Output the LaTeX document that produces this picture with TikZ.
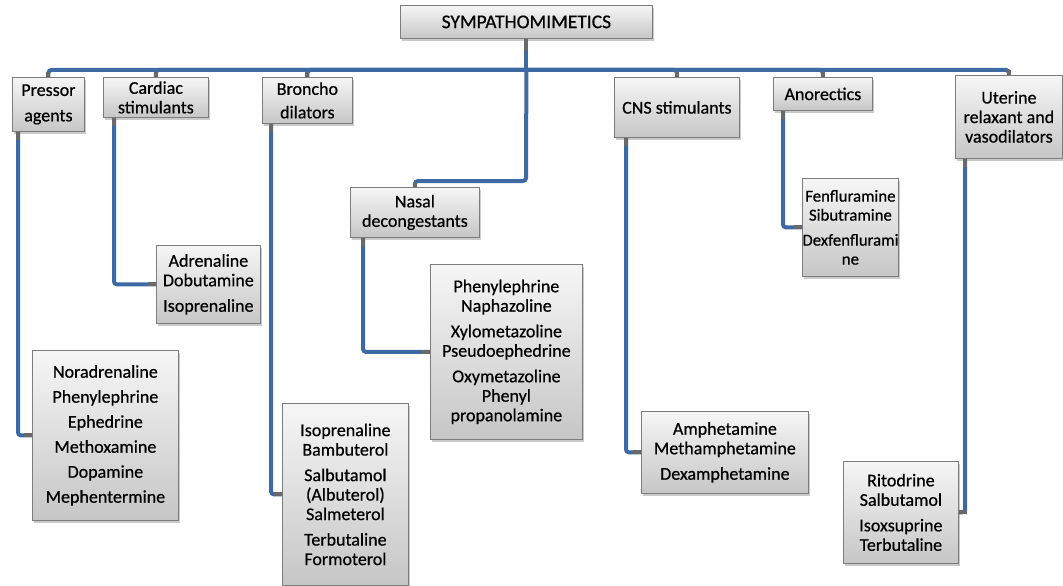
\documentclass[tikz,border=0pt]{standalone}
\usepackage{fontspec}
\setmainfont{Carlito}[FakeBold=0.6]
\usetikzlibrary{shadows}
\definecolor{connblue}{RGB}{62,106,163}
\definecolor{stubgray}{RGB}{105,105,105}
\definecolor{boxborder}{RGB}{125,125,125}
\definecolor{boxtop}{RGB}{246,246,246}
\definecolor{boxbot}{RGB}{198,198,198}
\tikzset{
  box/.style={draw=boxborder, line width=0.8pt, top color=boxtop, bottom color=boxbot,
    drop shadow={shadow xshift=2pt, shadow yshift=-2.5pt, opacity=0.35, fill=black!60},
    anchor=north west, align=center, inner sep=1pt,
    font=\fontsize{18}{19.5}\selectfont},
  conn/.style={draw=connblue, line width=4pt, rounded corners=3pt},
  stub/.style={draw=stubgray, line width=4pt}
}
\begin{document}
\begin{tikzpicture}[x=1pt,y=-1pt]
\useasboundingbox (0,0) rectangle (1063,586);
% level 0
\node[box, minimum width=252pt, minimum height=33pt, font=\fontsize{19.5}{21}\selectfont] (top) at (400,5) {SYMPATHOMIMETICS};
% level 1
\node[box, minimum width=72pt, minimum height=54pt] (pressor) at (12,77) {Pressor\\[6pt]agents};
\node[box, minimum width=105pt, minimum height=40pt] (cardiac) at (103,77) {Cardiac\\stimulants};
\node[box, minimum width=90pt, minimum height=46pt] (broncho) at (262,77) {Broncho\\[4pt]dilators};
\node[box, minimum width=129pt, minimum height=50pt] (nasal) at (350,187) {Nasal\\decongestants};
\node[box, minimum width=125pt, minimum height=60pt] (cns) at (614,77) {CNS stimulants};
\node[box, minimum width=99pt, minimum height=33pt] (anor) at (773,77) {Anorectics};
\node[box, minimum width=107pt, minimum height=83pt] (uter) at (955,75) {Uterine\\relaxant and\\vasodilators};
% level 2
\node[box, minimum width=146pt, minimum height=170pt] (nor) at (32,350)
  {Noradrenaline\\[5.5pt]Phenylephrine\\[5.5pt]Ephedrine\\[5.5pt]Methoxamine\\[5.5pt]Dopamine\\[5.5pt]Mephentermine};
\node[box, minimum width=104pt, minimum height=78pt] (adr) at (156,245)
  {Adrenaline\\Dobutamine\\[6pt]Isoprenaline};
\node[box, minimum width=126pt, minimum height=182pt] (bro2) at (282,403)
  {Isoprenaline\\Bambuterol\\[6pt]Salbutamol\\(Albuterol)\\Salmeterol\\[6pt]Terbutaline\\Formoterol};
\node[box, minimum width=152pt, minimum height=175pt] (phe) at (430,264)
  {Phenylephrine\\Naphazoline\\[6pt]Xylometazoline\\Pseudoephedrine\\[6pt]Oxymetazoline\\Phenyl\\propanolamine};
\node[box, minimum width=167pt, minimum height=82pt] (amp) at (641,411)
  {Amphetamine\\Methamphetamine\\[6pt]Dexamphetamine};
\node[box, minimum width=86pt, minimum height=98pt, inner sep=0pt, font=\fontsize{16.8}{19}\selectfont] (fen) at (802,178)
  {Fenfluramine\\Sibutramine\\[6pt]Dexfenflurami\\ne};
\node[box, minimum width=115pt, minimum height=102pt] (rit) at (843,461)
  {Ritodrine\\Salbutamol\\[6pt]Isoxsuprine\\Terbutaline};
% bus
\coordinate (bus) at (526,70);
\coordinate (nasalbend) at (526,181);
\draw[conn, rounded corners=0pt] (top.south) -- (top.south |- bus);
\foreach \c in {pressor,cardiac,broncho,cns,anor,uter}
  \draw[conn] (top.south |- bus) -| (\c.north);
\draw[conn] (top.south |- bus) -- (nasalbend) -| (nasal.north);
% parent to child
\draw[conn] ([xshift=6pt]pressor.south west) |- (nor.west);
\draw[conn] ([xshift=11pt]cardiac.south west) |- (adr.west);
\draw[conn] ([xshift=9pt]broncho.south west) |- (bro2.west);
\draw[conn] ([xshift=13pt]nasal.south west) |- (phe.west);
\draw[conn] ([xshift=12pt]cns.south west) |- (amp.west);
\draw[conn] ([xshift=10pt]anor.south west) |- (fen.west);
\draw[conn] ([xshift=10pt]uter.south west) |- (rit.east);
% gray stubs at box ends
\draw[stub] (top.south) -- ++(0,12);
\foreach \c in {pressor,cardiac,broncho,cns,anor,uter}
  \draw[stub] (\c.north) -- ++(0,-5);
\draw[stub] (nasal.north) -- ++(0,-5);
\draw[stub] ([xshift=6pt]pressor.south west) -- ++(0,8);
\draw[stub] ([xshift=11pt]cardiac.south west) -- ++(0,8);
\draw[stub] ([xshift=9pt]broncho.south west) -- ++(0,8);
\draw[stub] ([xshift=13pt]nasal.south west) -- ++(0,8);
\draw[stub] ([xshift=12pt]cns.south west) -- ++(0,8);
\draw[stub] ([xshift=10pt]anor.south west) -- ++(0,8);
\draw[stub] ([xshift=10pt]uter.south west) -- ++(0,8);
\draw[stub] (nor.west) -- ++(-8,0);
\draw[stub] (adr.west) -- ++(-8,0);
\draw[stub] (bro2.west) -- ++(-8,0);
\draw[stub] (phe.west) -- ++(-8,0);
\draw[stub] (amp.west) -- ++(-8,0);
\draw[stub] (fen.west) -- ++(-8,0);
\draw[stub] (rit.east) -- ++(8,0);
\end{tikzpicture}
\end{document}
